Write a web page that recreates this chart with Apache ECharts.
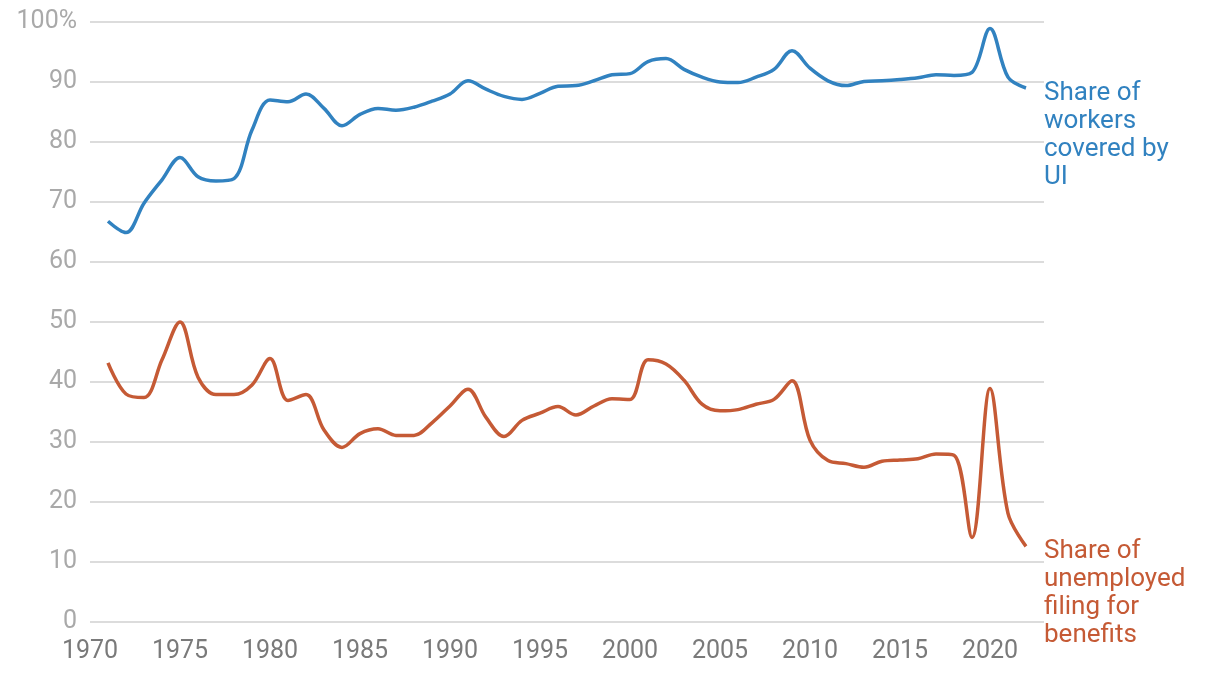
<!DOCTYPE html>
<html>
<head>
<meta charset="utf-8">
<script src="https://cdn.jsdelivr.net/npm/echarts@6/dist/echarts.min.js"></script>
<style>
  html, body { margin: 0; padding: 0; background: #fff; }
  #chart { width: 1220px; height: 676px; }
</style>
</head>
<body>
<div id="chart"></div>
<script>
  // 数据：年份 + 两条序列（百分比）
  const years = [1971, 1972, 1973, 1974, 1975, 1976, 1977, 1978, 1979, 1980,
    1981, 1982, 1983, 1984, 1985, 1986, 1987, 1988, 1989, 1990,
    1991, 1992, 1993, 1994, 1995, 1996, 1997, 1998, 1999, 2000,
    2001, 2002, 2003, 2004, 2005, 2006, 2007, 2008, 2009, 2010,
    2011, 2012, 2013, 2014, 2015, 2016, 2017, 2018, 2019, 2020,
    2021, 2022]
  const coveredShare = [66.8, 64.9, 69.8, 73.7, 77.4, 74.2, 73.5, 73.9, 82.0, 87.0,
    86.7, 88.0, 85.6, 82.7, 84.6, 85.6, 85.3, 85.8, 86.8, 88.0,
    90.2, 88.8, 87.6, 87.1, 88.1, 89.3, 89.4, 90.2, 91.2, 91.4,
    93.4, 93.9, 92.1, 90.8, 90.0, 89.9, 90.8, 92.1, 95.2, 92.3,
    90.2, 89.4, 90.1, 90.2, 90.4, 90.7, 91.2, 91.1, 91.6, 98.9,
    90.8, 89.0]
  const filingShare = [43.2, 38.0, 37.4, 43.7, 50.0, 40.8, 37.9, 37.9, 39.5, 43.9,
    36.9, 37.9, 32.0, 29.1, 31.4, 32.2, 31.1, 31.1, 33.2, 36.0,
    38.8, 34.1, 30.9, 33.6, 34.8, 35.9, 34.5, 36.0, 37.2, 37.1,
    43.7, 43.0, 40.3, 36.3, 35.2, 35.4, 36.3, 37.1, 40.2, 30.3,
    26.9, 26.4, 25.8, 26.8, 27.0, 27.2, 28.0, 27.8, 14.1, 38.9,
    18.1, 12.6]
  const yTicks = [0, 10, 20, 30, 40, 50, 60, 70, 80, 90, 100]
  const xTicks = [1970, 1975, 1980, 1985, 1990, 1995, 2000, 2005, 2010, 2015, 2020]

  const blue = '#3182c0'
  const red = '#c55a35'
  const font = 'Roboto, "Noto Sans", sans-serif'

  const toPairs = (vals) => years.map((y, i) => [y, vals[i]])

  const myChart = echarts.init(document.getElementById('chart'), null, { renderer: 'canvas' })

  const option = {
    animation: false,
    grid: { left: 90, right: 176, top: 22, bottom: 54, containLabel: false },
    xAxis: {
      type: 'value',
      min: xTicks[0],
      max: 2023,
      interval: 5,
      axisLine: { show: false },
      axisTick: { show: false },
      splitLine: { show: false },
      axisLabel: {
        color: '#7a7a7a',
        fontSize: 25,
        fontFamily: font,
        margin: 17,
        showMaxLabel: false,
        formatter: (v) => (xTicks.includes(v) ? String(v) : '')
      }
    },
    yAxis: {
      type: 'value',
      min: yTicks[0],
      max: yTicks[yTicks.length - 1],
      interval: 10,
      axisLine: { show: false },
      axisTick: { show: false },
      splitLine: { lineStyle: { color: '#dcdcdc', width: 2 } },
      axisLabel: {
        color: '#a9a9a9',
        fontSize: 25,
        fontFamily: font,
        margin: 13,
        formatter: (v) => (v === 100 ? '100%' : String(v))
      }
    },
    series: [
      {
        name: 'Share of workers covered by UI',
        type: 'line',
        data: toPairs(coveredShare),
        smooth: 0.35,
        symbol: 'none',
        lineStyle: { color: blue, width: 3.5 },
        endLabel: {
          show: true,
          formatter: 'Share of\nworkers\ncovered by\nUI',
          color: blue,
          fontSize: 26,
          fontFamily: font,
          lineHeight: 28,
          align: 'left',
          verticalAlign: 'top',
          distance: 18,
          offset: [0, -9]
        }
      },
      {
        name: 'Share of unemployed filing for benefits',
        type: 'line',
        data: toPairs(filingShare),
        smooth: 0.35,
        symbol: 'none',
        lineStyle: { color: red, width: 3.5 },
        endLabel: {
          show: true,
          formatter: 'Share of\nunemployed\nfiling for\nbenefits',
          color: red,
          fontSize: 26,
          fontFamily: font,
          lineHeight: 28,
          align: 'left',
          verticalAlign: 'top',
          distance: 18,
          offset: [0, -9]
        }
      }
    ]
  }

  myChart.setOption(option)
</script>
</body>
</html>
